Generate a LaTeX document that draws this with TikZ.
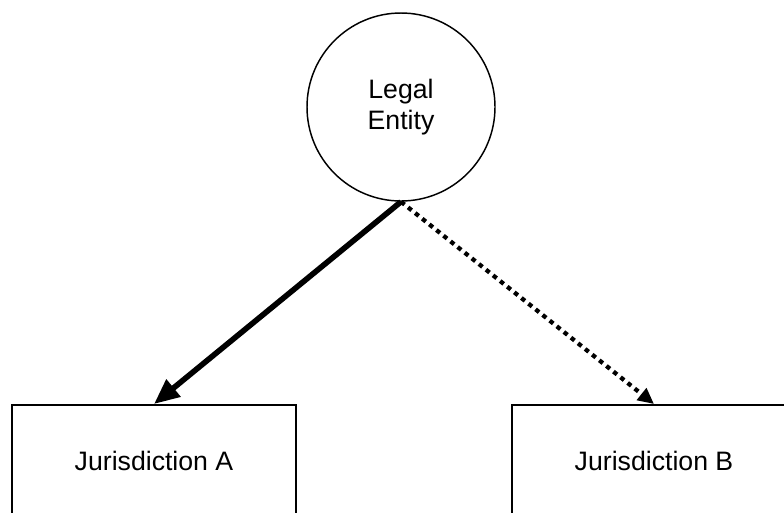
\documentclass[tikz,border=0pt]{standalone}
\usepackage{fontspec}
\setmainfont{Liberation Sans}
\usetikzlibrary{arrows.meta}

\begin{document}
\begin{tikzpicture}[x=0.75pt, y=-0.75pt,
    entity/.style={circle, draw, line width=1.1pt, minimum size=141pt,
      align=center, font=\fontsize{20}{23}\selectfont},
    juris/.style={rectangle, draw, line width=1.5pt, minimum width=213pt,
      minimum height=84pt, font=\fontsize{20}{23}\selectfont},
    solidlink/.style={line width=4.2pt, -{Triangle[length=19pt, width=16pt]}},
    dottedlink/.style={line width=3.2pt, dash pattern=on 3.4pt off 3.4pt,
      -{Triangle[length=12pt, width=11pt]}}]
  \useasboundingbox (0,0) rectangle (784,512);
  \node[entity] (legal) at (401,107) {Legal\\Entity};
  \node[juris] (jurA) at (154,461) {Jurisdiction A};
  \node[juris] (jurB) at (654,461) {Jurisdiction B};
  \draw[solidlink] (legal.south) -- (jurA.north);
  \draw[dottedlink] (legal.south) -- (jurB.north);
\end{tikzpicture}
\end{document}
